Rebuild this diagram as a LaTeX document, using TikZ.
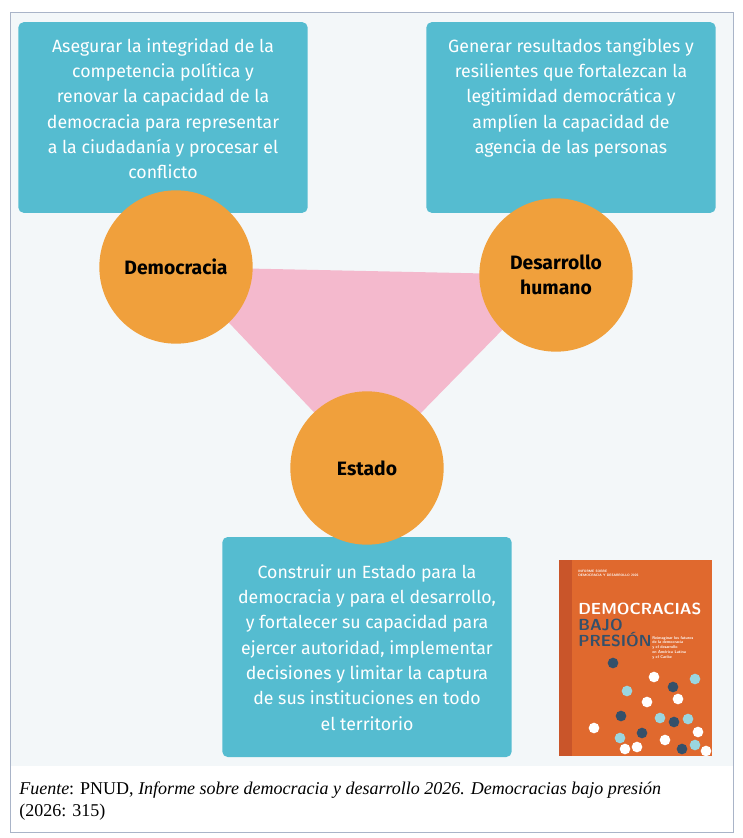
\documentclass[tikz,border=0pt]{standalone}
\usepackage{fontspec}
\setmainfont{Liberation Serif}
\newfontfamily\boxfont{Fira Sans}
\definecolor{boxteal}{HTML}{55BCD0}
\definecolor{ballorange}{HTML}{F0A03C}
\definecolor{tripink}{HTML}{F4B9CD}
\definecolor{panelbg}{HTML}{F3F7F9}
\definecolor{framegray}{HTML}{A9B4C8}
\definecolor{coverorange}{HTML}{E0692E}
\definecolor{coverdark}{HTML}{C9552A}
\definecolor{dotnavy}{HTML}{34506A}
\definecolor{dotcyan}{HTML}{9AD6E0}

\begin{document}
\begin{tikzpicture}[x=0.75pt, y=-0.75pt,
		goalbox/.style={rectangle, fill=boxteal, rounded corners=4pt, minimum width=217pt, inner sep=0pt},
		goaltext/.style={inner sep=0pt, text=white, font=\boxfont\fontsize{13.3}{19}\selectfont, align=center},
		pillar/.style={circle, fill=ballorange, minimum size=115pt, inner sep=0pt, font=\boxfont\bfseries\fontsize{14.5}{19}\selectfont, align=center},
		dot/.style={circle, inner sep=0pt, minimum size=8pt}
	]
	\useasboundingbox (0,0) rectangle (742,838);
	\fill[white] (0,0) rectangle (742,838);
	\fill[panelbg] (10,12) rectangle (733,766);
	\draw[framegray, line width=0.6pt] (10,12) rectangle (733,832);

	% goal boxes
	\node[goalbox, minimum height=143pt] (polbox) at (163,117.5) {};
	\node[goaltext, anchor=north] (poltxt) at (163,38) {Asegurar la integridad de la\\competencia política y\\renovar la capacidad de la\\democracia para representar\\a la ciudadanía y procesar el\\conflicto};
	\node[goalbox, minimum height=143pt] (devbox) at (571,117.5) {};
	\node[goaltext, anchor=north] (devtxt) at (571,38) {Generar resultados tangibles y\\resilientes que fortalezcan la\\legitimidad democrática y\\amplíen la capacidad de\\agencia de las personas};
	\node[goalbox, minimum height=165pt] (estbox) at (367,647) {};
	\node[goaltext, anchor=north] (esttxt) at (367,564) {Construir un Estado para la\\democracia y para el desarrollo,\\y fortalecer su capacidad para\\ejercer autoridad, implementar\\decisiones y limitar la captura\\de sus instituciones en todo\\el territorio};

	% triangle and circles
	\coordinate (dem) at (176,267);
	\coordinate (des) at (556,275);
	\coordinate (est) at (367,468);
	\fill[tripink] (dem) -- (des) -- (est) -- cycle;
	\node[pillar] (demc) at (dem) {Democracia};
	\node[pillar] (desc) at (des) {Desarrollo\\humano};
	\node[pillar] (estc) at (est) {Estado};

	% report cover
	\fill[coverorange] (559,560) rectangle (712,756);
	\fill[coverdark] (559,560) rectangle (572,756);
	\node[anchor=north west, inner sep=0pt, text=white, font=\sffamily\bfseries\fontsize{2.5}{3}\selectfont, align=left] (covtop) at (578,570) {INFORME SOBRE\\DEMOCRACIA Y DESARROLLO 2026};
	\node[anchor=north west, inner sep=0pt, text=white, font=\sffamily\bfseries\fontsize{12}{12}\selectfont] (covt1) at (578,603) {DEMOCRACIAS};
	\node[anchor=north west, inner sep=0pt, text=dotnavy, font=\sffamily\bfseries\fontsize{12}{12}\selectfont, align=left] (covt2) at (578,619) {BAJO\\PRESIÓN};
	\node[anchor=north west, inner sep=0pt, text=white, font=\sffamily\bfseries\fontsize{3}{3.6}\selectfont, align=left] (covsub) at (652,636) {Reimaginar los futuros\\de la democracia\\y el desarrollo\\en América Latina\\y el Caribe};
	\foreach \dx/\dy/\col in {613/663/dotnavy, 654/677/white, 695/679/dotcyan, 673/687/dotnavy, 627/691/dotcyan, 647/702/white, 678/699/white, 621/716/dotnavy, 660/718/dotcyan, 674/722/dotnavy, 688/719/dotcyan, 594/728/white, 642/733/dotnavy, 620/738/dotcyan, 665/740/white, 698/732/white, 695/745/dotcyan, 625/749/white, 637/747/white, 682/749/dotnavy, 706/751/white}
		\node[dot, fill=\col] at (\dx,\dy) {};

	% source line
	\node[anchor=north west, inner sep=0pt, font=\fontsize{13.5}{16.5}\selectfont, align=left] (src) at (19,782) {\textit{Fuente}: PNUD, \textit{Informe sobre democracia y desarrollo 2026. Democracias bajo presión}\\(2026: 315)};
\end{tikzpicture}
\end{document}
